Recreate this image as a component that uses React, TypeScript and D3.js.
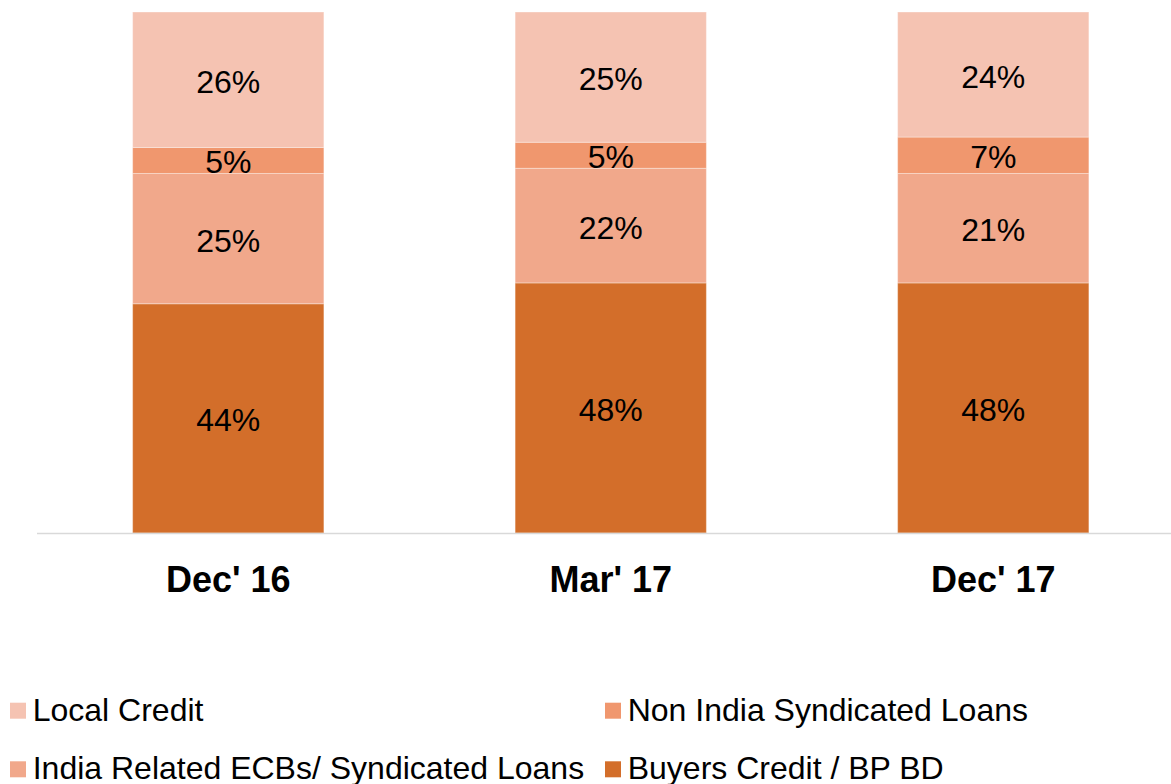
import React from "react";
import * as d3 from "d3";

const categories = ["Dec' 16", "Mar' 17", "Dec' 17"];
const seriesNames = [
  "Buyers Credit / BP BD",
  "India Related ECBs/ Syndicated Loans",
  "Non India Syndicated Loans",
  "Local Credit",
];
const buyersCredit = [44, 48, 48];
const indiaRelated = [25, 22, 21];
const nonIndia = [5, 5, 7];
const localCredit = [26, 25, 24];
const seriesColors = ["#D36E2A", "#F1A88B", "#F0976E", "#F5C3B2"];

const W = 1171;
const H = 784;

export default function App() {
  const seriesValues = [buyersCredit, indiaRelated, nonIndia, localCredit];
  const rows = categories.map((c, i) => {
    const r: any = { cat: c };
    seriesNames.forEach((s, k) => (r[s] = seriesValues[k][i]));
    return r;
  });
  const stack = d3.stack<any>().keys(seriesNames)(rows);

  const x = d3
    .scaleBand<string>()
    .domain(categories)
    .range([37, 1184.5])
    .paddingInner(0.5)
    .paddingOuter(0.25);
  const y = d3.scaleLinear().domain([0, 100]).range([533, 12]);

  const font = "'Liberation Sans', Arial, sans-serif";

  const legendItems = [
    { name: "Local Credit", color: seriesColors[3], x: 10, y: 720.7 },
    { name: "Non India Syndicated Loans", color: seriesColors[2], x: 605, y: 720.7 },
    { name: "India Related ECBs/ Syndicated Loans", color: seriesColors[1], x: 10, y: 779.3 },
    { name: "Buyers Credit / BP BD", color: seriesColors[0], x: 605, y: 779.3 },
  ];

  return (
    <svg
      width={W}
      height={H}
      style={{ position: "absolute", left: 0, top: 0, background: "#fff" }}
      fontFamily={font}
    >
      {stack.map((layer, k) => (
        <g key={layer.key}>
          {layer.map((d, i) => {
            const x0 = x(categories[i])!;
            const y0 = y(d[1]);
            const y1 = y(d[0]);
            return (
              <g key={i}>
                <rect
                  x={x0}
                  y={y0}
                  width={x.bandwidth()}
                  height={y1 - y0}
                  fill={seriesColors[k]}
                  stroke="#ffffff"
                  strokeOpacity={0.35}
                  strokeWidth={1}
                />
                <text
                  x={x0 + x.bandwidth() / 2}
                  y={(y0 + y1) / 2 + 13}
                  textAnchor="middle"
                  fontSize={32}
                  fill="#000"
                >
                  {seriesValues[k][i]}%
                </text>
              </g>
            );
          })}
        </g>
      ))}
      <line x1={37} x2={W} y1={533.5} y2={533.5} stroke="#D9D9D9" strokeWidth={1.5} />
      {categories.map((c) => (
        <text
          key={c}
          x={x(c)! + x.bandwidth() / 2}
          y={592}
          textAnchor="middle"
          fontSize={36}
          fontWeight="bold"
          fill="#000"
        >
          {c}
        </text>
      ))}
      {legendItems.map((it) => (
        <g key={it.name}>
          <rect x={it.x} y={it.y - 18} width={16} height={16} fill={it.color} />
          <text x={it.x + 22.7} y={it.y} fontSize={32} fill="#000">
            {it.name}
          </text>
        </g>
      ))}
    </svg>
  );
}
